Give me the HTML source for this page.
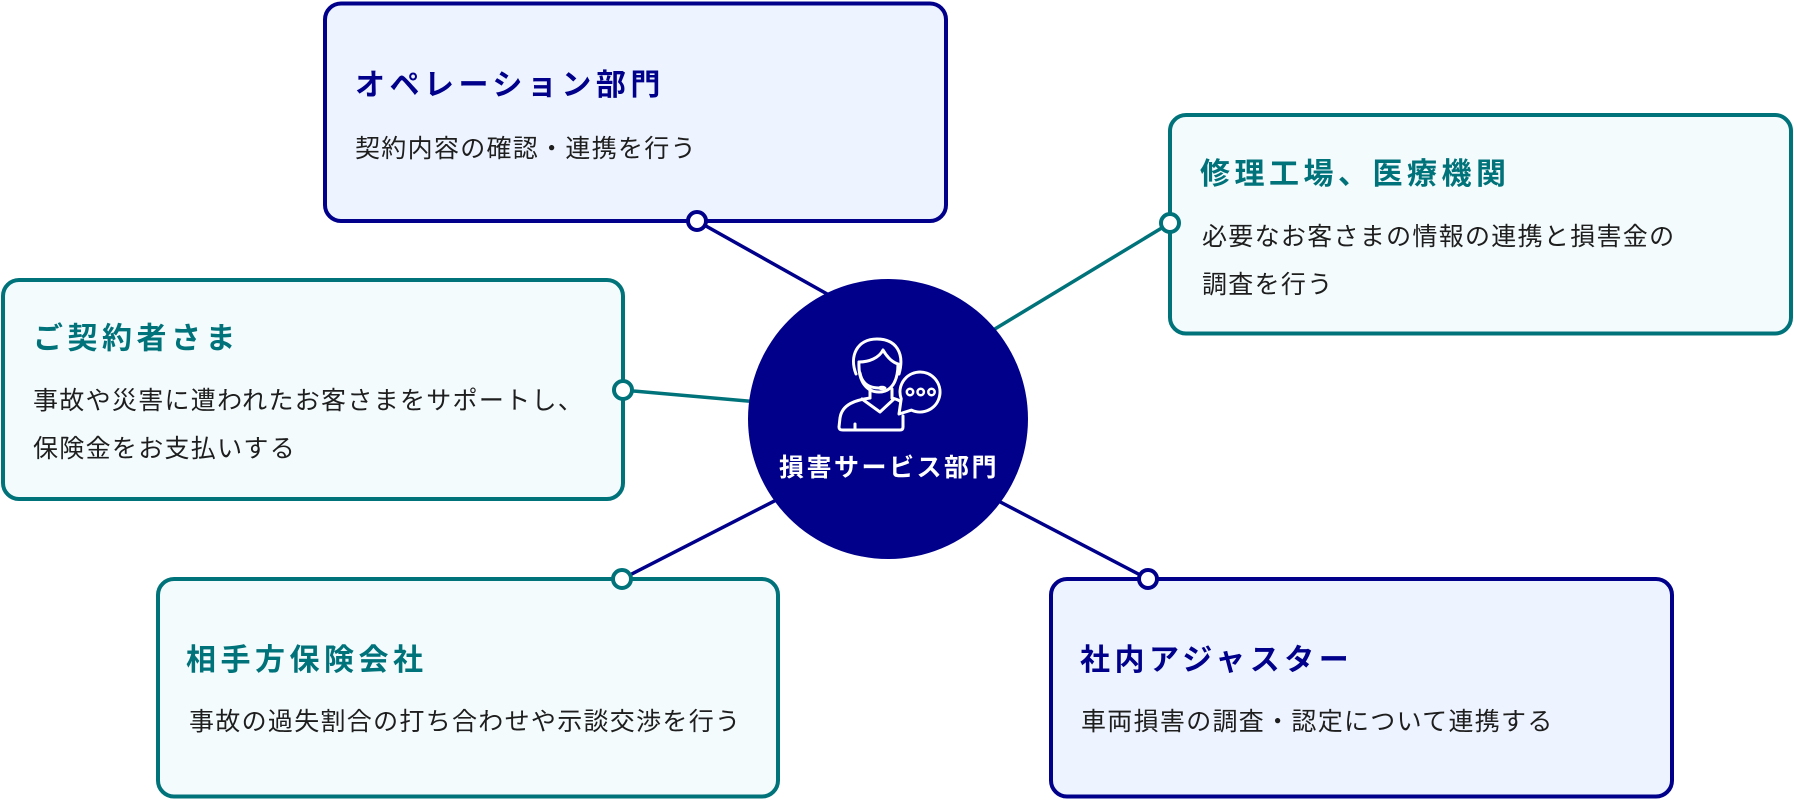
<!DOCTYPE html>
<html lang="ja">
<head>
<meta charset="utf-8">
<style>
  html, body { margin: 0; padding: 0; background: #ffffff; }
  body { width: 1794px; height: 801px; overflow: hidden; }
  svg { display: block; }
  .t { font-family: "Liberation Sans", "Noto Sans CJK JP", sans-serif; }
  .title { font-size: 30px; font-weight: 700; letter-spacing: 4.5px; }
  .desc { font-size: 25px; font-weight: 400; letter-spacing: 1.3px; fill: #1e1e1e; }
  .navy { fill: #00008b; }
  .teal { fill: #00727a; }
</style>
</head>
<body>
<svg width="1794" height="801" viewBox="0 0 1794 801" xmlns="http://www.w3.org/2000/svg">
  <rect x="0" y="0" width="1794" height="801" fill="#ffffff"/>

  <!-- connectors -->
  <line x1="697" y1="221" x2="845" y2="304" stroke="#00008b" stroke-width="3.5"/>
  <line x1="622" y1="390" x2="770" y2="403" stroke="#00727a" stroke-width="3.5"/>
  <line x1="1170" y1="223" x2="980" y2="338" stroke="#00727a" stroke-width="3.5"/>
  <line x1="622" y1="579" x2="790" y2="493" stroke="#00008b" stroke-width="3.5"/>
  <line x1="1148" y1="579" x2="985" y2="494" stroke="#00008b" stroke-width="3.5"/>

  <!-- boxes -->
  <rect x="325" y="3.5" width="621" height="217.5" rx="16" ry="16" fill="#eef4ff" stroke="#00008b" stroke-width="4"/>
  <rect x="3" y="280" width="620" height="219" rx="16" ry="16" fill="#f3fbfd" stroke="#00727a" stroke-width="4"/>
  <rect x="1170" y="115" width="621" height="218.5" rx="16" ry="16" fill="#f3fbfd" stroke="#00727a" stroke-width="4"/>
  <rect x="158" y="579" width="620" height="217.5" rx="16" ry="16" fill="#f3fbfd" stroke="#00727a" stroke-width="4"/>
  <rect x="1051" y="579" width="621" height="217.5" rx="16" ry="16" fill="#eef4ff" stroke="#00008b" stroke-width="4"/>

  <!-- dots -->
  <circle cx="697" cy="221" r="9" fill="#ffffff" stroke="#00008b" stroke-width="4"/>
  <circle cx="623" cy="390" r="9" fill="#ffffff" stroke="#00727a" stroke-width="4"/>
  <circle cx="1170" cy="223" r="9" fill="#ffffff" stroke="#00727a" stroke-width="4"/>
  <circle cx="622" cy="579" r="9" fill="#ffffff" stroke="#00727a" stroke-width="4"/>
  <circle cx="1148" cy="579" r="9" fill="#ffffff" stroke="#00008b" stroke-width="4"/>

  <!-- center circle -->
  <circle cx="888" cy="419" r="140" fill="#00008b"/>

  <!-- icon -->
  <g fill="none" stroke="#ffffff" stroke-width="3" stroke-linecap="round" stroke-linejoin="round">
    <path d="M856 374 C849 356 857 339 877 339 C896 339 905 353 899 374"/>
    <path d="M859 362 C858 382 867 392 879 392 C891 392 898 382 898 364"/>
    <path d="M859 362 C869 362 879 358 883 350 C887 357 892 362 898 364"/>
    <path d="M860 373 C862 384 870 388 879 388"/>
    <ellipse cx="882" cy="388" rx="4.5" ry="2.2" fill="#ffffff" stroke="none"/>
    <path d="M870 389 L870 398"/>
    <path d="M892 389 L892 398"/>
    <path d="M870 398 C856 400 842 404 840 418 L839 427 C839 429 840 430 843 430 L900 430 C902 430 903 429 903 427 L903 416"/>
    <path d="M892 398 C896 399 899 400 901 402"/>
    <path d="M862 399 L880 412 L894 399"/>
    <path d="M855 424 L855 430"/>
  </g>
  <path d="M901.2 398.8 A20 20 0 1 1 911.5 410.1 L899 414 Z" fill="#00008b" stroke="#ffffff" stroke-width="3" stroke-linejoin="round"/>
  <g fill="none" stroke="#ffffff" stroke-width="2.5">
    <circle cx="910" cy="392" r="3.2"/>
    <circle cx="920.7" cy="392" r="3.2"/>
    <circle cx="931.5" cy="392" r="3.2"/>
  </g>

  <text class="t" x="889" y="476" text-anchor="middle" fill="#ffffff" style="font-size:25px;font-weight:700;letter-spacing:2.5px;">損害サービス部門</text>

  <!-- top box -->
  <text class="t title navy" x="355" y="95">オペレーション部門</text>
  <text class="t desc" x="355" y="157">契約内容の確認・連携を行う</text>

  <!-- left box -->
  <text class="t title teal" x="33" y="348.5">ご契約者さま</text>
  <text class="t desc" x="33" y="409">事故や災害に遭われたお客さまをサポートし、</text>
  <text class="t desc" x="33" y="457">保険金をお支払いする</text>

  <!-- right box -->
  <text class="t title teal" x="1200" y="184">修理工場、医療機関</text>
  <text class="t desc" x="1202" y="245">必要なお客さまの情報の連携と損害金の</text>
  <text class="t desc" x="1202" y="293">調査を行う</text>

  <!-- bottom-left box -->
  <text class="t title teal" x="186" y="670">相手方保険会社</text>
  <text class="t desc" x="189" y="730">事故の過失割合の打ち合わせや示談交渉を行う</text>

  <!-- bottom-right box -->
  <text class="t title navy" x="1080" y="670">社内アジャスター</text>
  <text class="t desc" x="1081" y="730">車両損害の調査・認定について連携する</text>
</svg>
</body>
</html>
